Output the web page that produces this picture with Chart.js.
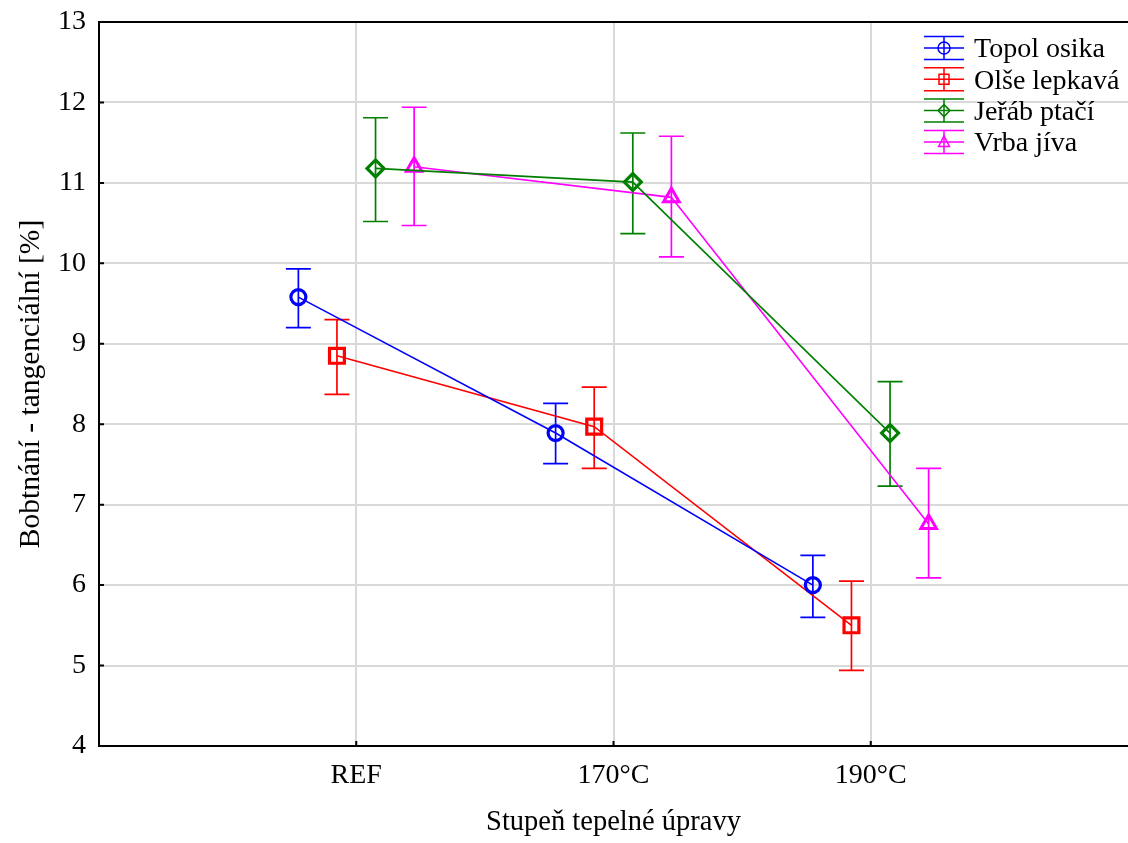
<!DOCTYPE html>
<html><head><meta charset="utf-8">
<script src="https://cdn.jsdelivr.net/npm/chart.js@4.4.1/dist/chart.umd.min.js"></script>
<style>html,body{margin:0;padding:0;background:#fff}canvas{display:block}</style>
</head><body>
<canvas id="c" width="1128" height="843"></canvas>
<script>
// ---- data ----
const categories = ['REF', '170°C', '190°C'];
const seriesNames = ['Topol osika', 'Olše lepkavá', 'Jeřáb ptačí', 'Vrba jíva'];
const topolMean = [9.58, 7.89, 6.00];
const topolLow  = [9.20, 7.51, 5.60];
const topolHigh = [9.93, 8.26, 6.37];
const olseMean  = [8.85, 7.97, 5.50];
const olseLow   = [8.37, 7.45, 4.94];
const olseHigh  = [9.30, 8.46, 6.05];
const jerabMean = [11.18, 11.01, 7.89];
const jerabLow  = [10.52, 10.37, 7.23];
const jerabHigh = [11.81, 11.62, 8.53];
const vrbaMean  = [11.20, 10.82, 6.76];
const vrbaLow   = [10.47, 10.08, 6.09];
const vrbaHigh  = [11.94, 11.58, 7.45];
const yTitle = 'Bobtnání - tangenciální [%]';
const xTitle = 'Stupeň tepelné úpravy';

// ---- styles ----
const FONT = "'Liberation Serif', 'Times New Roman', serif";
const colors = ['#0000ff', '#ff0000', '#008000', '#ff00ff'];
const markers = ['circle', 'rect', 'rectRot', 'triangle'];
const markerRadius = [7.5, 10.5, 8.5, 9];
const markerWidth = [3.2, 3.2, 3.2, 3];
const seriesOffset = [-0.225, -0.075, 0.075, 0.225];
const means = [topolMean, olseMean, jerabMean, vrbaMean];
const lows = [topolLow, olseLow, jerabLow, vrbaLow];
const highs = [topolHigh, olseHigh, jerabHigh, vrbaHigh];

const datasets = seriesNames.map((name, s) => ({
  label: name,
  data: categories.map((c, i) => ({ x: i + seriesOffset[s], y: means[s][i], lo: lows[s][i], hi: highs[s][i] })),
  borderColor: colors[s],
  backgroundColor: 'rgba(0,0,0,0)',
  borderWidth: 1.6,
  pointStyle: markers[s],
  pointRadius: markerRadius[s],
  pointBorderWidth: markerWidth[s],
  pointBorderColor: colors[s],
  pointBackgroundColor: 'rgba(0,0,0,0)',
  tension: 0,
  fill: false
}));

const errorBars = {
  id: 'errorBars',
  beforeDatasetsDraw(chart) {
    const ctx = chart.ctx, xs = chart.scales.x, ys = chart.scales.y;
    chart.data.datasets.forEach((ds) => {
      ctx.save();
      ctx.strokeStyle = ds.borderColor;
      ctx.lineWidth = 1.7;
      ds.data.forEach(p => {
        const px = xs.getPixelForValue(p.x);
        const yl = ys.getPixelForValue(p.lo), yh = ys.getPixelForValue(p.hi);
        ctx.beginPath();
        ctx.moveTo(px, yl); ctx.lineTo(px, yh);
        ctx.moveTo(px - 12.5, yl); ctx.lineTo(px + 12.5, yl);
        ctx.moveTo(px - 12.5, yh); ctx.lineTo(px + 12.5, yh);
        ctx.stroke();
      });
      ctx.restore();
    });
  }
};

function drawMarker(ctx, style, x, y, r) {
  ctx.beginPath();
  if (style === 'circle') {
    ctx.arc(x, y, r, 0, Math.PI * 2);
  } else if (style === 'rect') {
    ctx.rect(x - r, y - r, 2 * r, 2 * r);
  } else if (style === 'rectRot') {
    ctx.moveTo(x, y - r); ctx.lineTo(x + r, y); ctx.lineTo(x, y + r); ctx.lineTo(x - r, y); ctx.closePath();
  } else {
    ctx.moveTo(x, y - r); ctx.lineTo(x + r * 0.9, y + r * 0.75); ctx.lineTo(x - r * 0.9, y + r * 0.75); ctx.closePath();
  }
  ctx.stroke();
}

const legendBox = {
  id: 'legendBox',
  afterDraw(chart) {
    const ctx = chart.ctx;
    ctx.save();
    chart.data.datasets.forEach((ds, i) => {
      const cy = 48 + i * 31.3;
      const x0 = 924, x1 = 964, xc = 944;
      ctx.strokeStyle = ds.borderColor;
      ctx.lineWidth = 1.5;
      ctx.beginPath();
      ctx.moveTo(x0, cy - 11.5); ctx.lineTo(x1, cy - 11.5);
      ctx.moveTo(x0, cy + 11.5); ctx.lineTo(x1, cy + 11.5);
      ctx.moveTo(x0, cy); ctx.lineTo(x1, cy);
      ctx.moveTo(xc, cy - 11.5); ctx.lineTo(xc, cy + 11.5);
      ctx.stroke();
      drawMarker(ctx, markers[i], xc, cy, markers[i] === 'rect' ? 5 : 6);
      ctx.fillStyle = '#000';
      ctx.font = '28px ' + FONT;
      ctx.textBaseline = 'middle';
      ctx.textAlign = 'left';
      ctx.fillText(ds.label, 974, cy + 2);
    });
    ctx.restore();
  }
};

const innerTicks = {
  id: 'innerTicks',
  afterDraw(chart) {
    const ctx = chart.ctx, xs = chart.scales.x, ys = chart.scales.y, a = chart.chartArea;
    ctx.save();
    ctx.strokeStyle = '#000';
    ctx.lineWidth = 2;
    ctx.beginPath();
    ys.ticks.forEach(t => {
      const py = ys.getPixelForValue(t.value);
      ctx.moveTo(a.left, py); ctx.lineTo(a.left + 5, py);
    });
    categories.forEach((c, i) => {
      const px = xs.getPixelForValue(i);
      ctx.moveTo(px, a.bottom); ctx.lineTo(px, a.bottom - 5);
    });
    ctx.stroke();
    ctx.restore();
  }
};

new Chart(document.getElementById('c'), {
  type: 'line',
  data: { datasets },
  options: {
    responsive: false,
    animation: false,
    devicePixelRatio: 1,
    layout: { autoPadding: false, padding: { top: 22, right: 0, left: 0, bottom: 0 } },
    plugins: { legend: { display: false }, tooltip: { enabled: false } },
    scales: {
      x: {
        type: 'linear', min: -1, max: 3,
        afterFit(s) { s.height = 97; s.paddingLeft = 0; s.paddingRight = 0; },
        afterBuildTicks(s) { s.ticks = categories.map((c, i) => ({ value: i })); },
        ticks: {
          autoSkip: false, maxRotation: 0, padding: 13,
          color: '#000', font: { family: FONT, size: 28 },
          callback: v => (categories[v] !== undefined ? categories[v] : '')
        },
        grid: { color: '#d9d9d9', lineWidth: 2, drawTicks: false },
        border: { color: '#000', width: 2 },
        title: { display: true, text: xTitle, color: '#000', font: { family: FONT, size: 28.5 }, padding: { top: 0, bottom: 3 } }
      },
      y: {
        type: 'linear', min: 4, max: 13,
        afterFit(s) { s.width = 99; s.paddingTop = 0; s.paddingBottom = 0; },
        ticks: { stepSize: 1, padding: 13, color: '#000', font: { family: FONT, size: 28 } },
        grid: { color: ctx => (ctx.tick && ctx.tick.value === 13 ? '#000' : '#d9d9d9'), lineWidth: 2, drawTicks: false },
        border: { color: '#000', width: 2 },
        title: { display: true, text: yTitle, color: '#000', font: { family: FONT, size: 29.5 }, padding: { top: 14, bottom: 0 } }
      }
    }
  },
  plugins: [errorBars, legendBox, innerTicks]
});
</script>
</body></html>
